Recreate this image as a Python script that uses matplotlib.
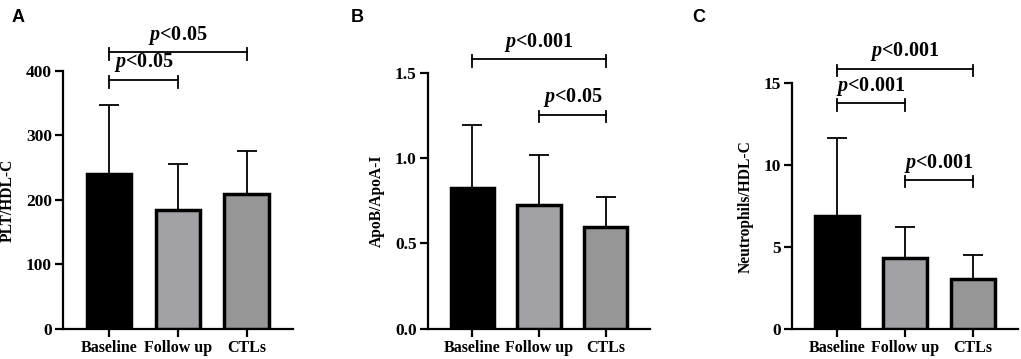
import matplotlib.pyplot as plt
import numpy as np

plt.rcParams['font.family'] = 'Liberation Serif'
plt.rcParams['font.weight'] = 'bold'
plt.rcParams['mathtext.fontset'] = 'custom'
plt.rcParams['mathtext.it'] = 'Liberation Serif:italic:bold'
plt.rcParams['mathtext.rm'] = 'Liberation Serif:bold'

groups = ["Baseline", "Follow up", "CTLs"]
colors = ["#000000", "#a2a2a6", "#969696"]

# panel A
plt_mean = [240, 185, 209]
plt_sd = [108, 71, 67]
# panel B
apo_mean = [0.823, 0.723, 0.595]
apo_sd = [0.372, 0.297, 0.178]
# panel C
neu_mean = [6.9, 4.37, 3.05]
neu_sd = [4.78, 1.9, 1.5]

# (bar i, bar j, y, label)
sig_A = [(0, 2, 429, "$p$<0.05"), (0, 1, 386, "$p$<0.05")]
sig_B = [(0, 2, 1.578, "$p$<0.001"), (1, 2, 1.254, "$p$<0.05")]
sig_C = [(0, 2, 15.9, "$p$<0.001"), (0, 1, 13.78, "$p$<0.001"), (1, 2, 9.1, "$p$<0.001")]

fig = plt.figure(figsize=(10.21, 3.59), dpi=100)

panels = [
    ([0.0617, 0.0836, 0.225, 0.7187], plt_mean, plt_sd, (0, 400), [0, 100, 200, 300, 400],
     ["0", "100", "200", "300", "400"], "PLT/HDL-C", sig_A, "A", 0.011),
    ([0.419, 0.0844, 0.218, 0.713], apo_mean, apo_sd, (0, 1.5), [0, 0.5, 1.0, 1.5],
     ["0.0", "0.5", "1.0", "1.5"], "ApoB/ApoA-I", sig_B, "B", 0.344),
    ([0.7754, 0.0827, 0.222, 0.685], neu_mean, neu_sd, (0, 15), [0, 5, 10, 15],
     ["0", "5", "10", "15"], "Neutrophils/HDL-C", sig_C, "C", 0.678),
]

x = np.arange(len(groups))
for rect, mean, sd, ylim, yt, ytl, ylab, sigs, letter, lx in panels:
    ax = fig.add_axes(rect)
    ax.bar(x, mean, width=0.65, color=colors, edgecolor="black", linewidth=2.5, zorder=3)
    ax.errorbar(x, mean, yerr=[np.zeros(3), sd], fmt="none", ecolor="black",
                elinewidth=1.3, capsize=7, capthick=1.3, zorder=2)
    ax.set_xlim(-0.67, 2.67)
    ax.set_ylim(*ylim)
    ax.set_yticks(yt)
    ax.set_yticklabels(ytl)
    ax.set_xticks(x)
    ax.set_xticklabels(groups, fontsize=11.5)
    ax.spines['top'].set_visible(False)
    ax.spines['right'].set_visible(False)
    ax.spines['left'].set_linewidth(1.6)
    ax.spines['bottom'].set_linewidth(1.6)
    ax.tick_params(axis='both', direction='out', length=6, width=1.6, pad=2)
    ax.tick_params(axis='y', labelsize=12.5)
    ax.set_ylabel(ylab, fontsize=11.2, fontweight='bold', labelpad=7)
    h = ylim[1] - ylim[0]
    for i, j, y, lab in sigs:
        ax.plot([x[i], x[j]], [y, y], color="black", lw=1.3, clip_on=False)
        for xx in (x[i], x[j]):
            ax.plot([xx, xx], [y + h * 0.016, y - h * 0.03], color="black", lw=1.3, clip_on=False)
        ax.annotate(lab, ((x[i] + x[j]) / 2, y), xytext=(0, 4), textcoords="offset points",
                    ha="center", va="bottom", fontsize=14.5, fontweight="bold",
                    annotation_clip=False)
    fig.text(lx, 0.952, letter, fontsize=13, fontweight="bold", family="Liberation Sans",
             va="center")

fig.savefig("out.png", dpi=100)
